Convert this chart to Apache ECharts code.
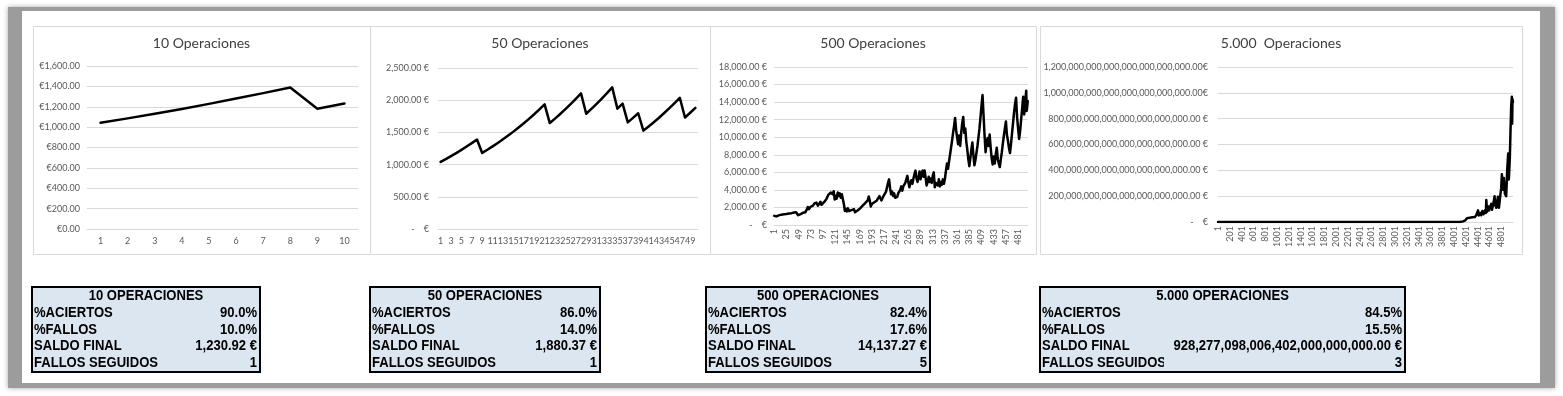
<!DOCTYPE html>
<html><head><meta charset="utf-8">
<script src="https://cdn.jsdelivr.net/npm/echarts@6/dist/echarts.min.js"></script>
<style>html,body{margin:0;padding:0;background:#fff;}#c{width:1563px;height:396px;}</style>
</head><body><div id="c"></div>
<script>
// ---------- DATA ----------
const cats10 = ['1','2','3','4','5','6','7','8','9','10'];
const vals10 = [1042.00,1085.76,1131.37,1178.88,1228.40,1279.99,1333.75,1389.77,1181.30,1230.92];
const yLabels10 = ['€0.00','€200.00','€400.00','€600.00','€800.00','€1,000.00','€1,200.00','€1,400.00','€1,600.00'];

const cats50 = Array.from({length:50},(_,i)=>String(i+1));
const vals50 = [1042.00,1085.76,1131.37,1178.88,1228.40,1279.99,1333.75,1389.77,1181.30,1230.92,
1282.62,1336.49,1392.62,1451.11,1512.06,1575.57,1641.74,1710.69,1782.54,1857.41,
1935.42,1645.11,1714.20,1786.20,1861.22,1939.39,2020.84,2105.72,1789.86,1865.03,
1943.36,2024.98,2110.03,2198.65,1868.85,1947.34,1655.24,1724.76,1797.20,1527.62,
1591.78,1658.63,1728.29,1800.88,1876.52,1955.33,2037.45,1731.83,1804.57,1880.37];
const yLabels50 = ['-    €','500.00 €','1,000.00 €','1,500.00 €','2,000.00 €','2,500.00 €'];

const cats500 = Array.from({length:500},(_,i)=>String(i+1));
const points500 = [[1,1042],[3,1130],[5,980],[8,1200],[10,1100],[13,1280],[15,1180],[18,1330],[20,1220],[23,1380],[25,1250],[28,1420],[30,1300],[33,1480],[35,1350],[38,1550],[40,1420],[42,1600],[44,1450],[46,1300],[48,1120],[50,1100],[53,1250],[55,1180],[58,1400],[60,1550],[62,1450],[65,1750],[67,2050],[69,1800],[72,2050],[74,1900],[77,2200],[80,2450],[82,2300],[84,2550],[87,2200],[89,2400],[92,2650],[94,2300],[96,2150],[99,2600],[101,2500],[104,3000],[107,3400],[109,3250],[112,3700],[114,3850],[116,3500],[118,3850],[120,2900],[122,3300],[124,3000],[126,3700],[128,3300],[130,3600],[132,3100],[134,3500],[136,3300],[138,2400],[140,1600],[142,1850],[144,1550],[146,1900],[148,1600],[150,1500],[153,1700],[155,1550],[158,1800],[160,1450],[162,1400],[165,1650],[167,1550],[170,1900],[172,1800],[175,2200],[177,2050],[180,2500],[182,2400],[185,2800],[187,3250],[189,2800],[191,2100],[193,2400],[195,2300],[198,2600],[200,2500],[203,2800],[205,2650],[208,3300],[210,3450],[212,2800],[214,3000],[216,3300],[218,3100],[221,3800],[223,4300],[225,4800],[227,5200],[229,4200],[231,3500],[233,3800],[235,3300],[237,3600],[239,3100],[241,3000],[243,3200],[245,3600],[247,3400],[249,4000],[251,4400],[253,3900],[255,4400],[257,4200],[259,4800],[261,5200],[263,5600],[265,4900],[267,4300],[269,4800],[271,5100],[273,4700],[275,5300],[277,5800],[279,6200],[281,5300],[283,4900],[285,5400],[287,6100],[289,5200],[291,5800],[293,6200],[295,5500],[297,6200],[299,6100],[301,4500],[303,4900],[305,5500],[307,4900],[309,5300],[311,4800],[313,5600],[315,6000],[317,4300],[319,4800],[321,5000],[323,4500],[325,5200],[327,4400],[329,4900],[331,4600],[333,5200],[335,4700],[337,5300],[339,6200],[341,7000],[343,6400],[345,7200],[347,8000],[349,8800],[351,9600],[353,10500],[355,11300],[357,12200],[359,10800],[361,10000],[363,9200],[365,10200],[367,9000],[369,10500],[371,11600],[373,12300],[375,10500],[377,11000],[379,9500],[381,8600],[383,7500],[385,6700],[387,7600],[389,8600],[391,9400],[393,8000],[395,6800],[397,7400],[399,8200],[401,9000],[403,10000],[405,11000],[407,12300],[409,13600],[411,14800],[413,12500],[415,10200],[417,8300],[419,9300],[421,9900],[423,9000],[425,10300],[427,8800],[429,7600],[431,6900],[433,7800],[435,7000],[437,8000],[439,8800],[441,7500],[443,7000],[445,6600],[447,7500],[449,8300],[451,9300],[453,10200],[455,11000],[457,11800],[459,10300],[461,9600],[463,8800],[465,8200],[467,9200],[469,10400],[471,11600],[473,12800],[475,13800],[477,14500],[479,12300],[481,11000],[483,9800],[485,10700],[487,12000],[489,13300],[491,14600],[493,12600],[495,14000],[497,15300],[498,13000],[499,13500],[500,14137.27]];
const yLabels500 = ['-    €','2,000.00 €','4,000.00 €','6,000.00 €','8,000.00 €','10,000.00 €','12,000.00 €','14,000.00 €','16,000.00 €','18,000.00 €'];

const cats5000 = Array.from({length:5000},(_,i)=>String(i+1));
const points5000 = [[1,1042],[500,1.4e4],[1000,2e6],[1500,3e8],[2000,4e10],[2500,6e12],[3000,9e14],[3500,1e17],[3800,2e18],[4000,3e19],[4100,2e20],[4155,5e21],[4190,1.2e22],[4222,3e22],[4245,3.8e22],[4267,3.3e22],[4290,4.2e22],[4310,3.6e22],[4335,4.8e22],[4355,3.9e22],[4380,5.5e22],[4395,4.5e22],[4408,9e22],[4420,5e22],[4440,7e22],[4460,5.2e22],[4480,8.5e22],[4500,6e22],[4525,9e22],[4540,7e22],[4548,1.7e23],[4560,8e22],[4580,1.2e23],[4595,9e22],[4604,1.1e23],[4632,1.4e23],[4645,9.5e22],[4660,1.0e23],[4675,1.6e23],[4688,2.0e23],[4700,1.3e23],[4717,1.1e23],[4730,1.5e23],[4745,1.95e23],[4762,1.1e23],[4784,2.0e23],[4800,2.6e23],[4812,3.7e23],[4829,2.5e23],[4846,3.4e23],[4863,2.2e23],[4885,2.0e23],[4902,4.0e23],[4919,5.3e23],[4930,3.3e23],[4947,5.0e23],[4958,7.0e23],[4970,9.0e23],[4981,9.7e23],[4986,7.6e23],[4992,9.5e23],[5000,9.28e23]];
const yLabels5000 = ['-    €','200,000,000,000,000,000,000,000.00 €','400,000,000,000,000,000,000,000.00 €','600,000,000,000,000,000,000,000.00 €','800,000,000,000,000,000,000,000.00 €','1,000,000,000,000,000,000,000,000.00€','1,200,000,000,000,000,000,000,000.00€'];

const chartTitles = ['10 Operaciones','50 Operaciones','500 Operaciones','5.000  Operaciones'];

const tableTitles = ['10 OPERACIONES','50 OPERACIONES','500 OPERACIONES','5.000 OPERACIONES'];
const rowLabels = ['%ACIERTOS','%FALLOS','SALDO FINAL','FALLOS SEGUIDOS'];
const aciertos = ['90.0%','86.0%','82.4%','84.5%'];
const fallos = ['10.0%','14.0%','17.6%','15.5%'];
const saldoFinal = ['1,230.92 €','1,880.37 €','14,137.27 €','928,277,098,006,402,000,000,000.00 €'];
const fallosSeguidos = ['1','1','5','3'];

// ---------- LAYOUT ----------
const FONT = 'Lato, "Open Sans", sans-serif';
const TFONT = 'bold 14.5px "Liberation Sans Narrow", "Liberation Sans", Arial, sans-serif';
const TSCALE = 0.9;
const charts = [
  {box:[33,26,337,228], grid:{left:87,top:66,width:271,height:163}, cats:cats10, data:vals10, labels:yLabels10, max:1600, interval:200, xInt:0, rot:0, ym:7, xm:8},
  {box:[370,26,340,228], grid:{left:438,top:68,width:260,height:161}, cats:cats50, data:vals50, labels:yLabels50, max:2500, interval:500, xInt:1, rot:0, ym:9, xm:8},
  {box:[710,26,326,228], grid:{left:774,top:67,width:254,height:158}, cats:cats500, data:points500.map(p=>[String(p[0]),p[1]]), labels:yLabels500, max:18000, interval:2000, xInt:23, rot:90, ym:7, xm:4},
  {box:[1040,26,482,228], grid:{left:1218,top:67,width:295,height:155}, cats:cats5000, data:points5000.map(p=>[String(p[0]),p[1]]), labels:yLabels5000, max:1.2e24, interval:2e23, xInt:199, rot:90, ym:10, xm:4}
];
const tables = [[32,287,228,85],[370,287,230,85],[706,287,224,85],[1040,287,365,85]];

const graphic = [];
graphic.push({type:'rect', z:0, shape:{x:8,y:7,width:1547,height:381}, style:{fill:'#9c9c9c', shadowBlur:5, shadowColor:'rgba(0,0,0,0.35)'}});
graphic.push({type:'rect', z:1, shape:{x:22,y:11,width:1518,height:372}, style:{fill:'#ffffff'}});
charts.forEach((c,i)=>{
  graphic.push({type:'rect', z:2, shape:{x:c.box[0]+0.5,y:c.box[1]+0.5,width:c.box[2],height:c.box[3]}, style:{fill:'#fff', stroke:'#d9d9d9', lineWidth:1}});
  graphic.push({type:'text', z:7, x:c.box[0]+c.box[2]/2, y:43, style:{text:chartTitles[i], font:'14px '+FONT, fill:'#404040', textAlign:'center', textVerticalAlign:'middle'}});
});
tables.forEach((t,i)=>{
  const [x,y,w,h]=t;
  graphic.push({type:'rect', z:10, shape:{x:x,y:y,width:w,height:h}, style:{fill:'#dce6f1', stroke:'#000', lineWidth:2}});
  const rowsY=[296,313,329.5,346,363];
  graphic.push({type:'text', z:11, x:x+w/2, y:rowsY[0], scaleX:TSCALE, style:{text:tableTitles[i], font:TFONT, fill:'#000', textAlign:'center', textVerticalAlign:'middle'}});
  const vals=[aciertos[i],fallos[i],saldoFinal[i],fallosSeguidos[i]];
  rowLabels.forEach((lab,r)=>{
    graphic.push({type:'text', z:11, x:x+2, y:rowsY[r+1], scaleX:TSCALE, style:{text:lab, font:TFONT, fill:'#000', textAlign:'left', textVerticalAlign:'middle'}});
    graphic.push({type:'text', z:13, x:x+w-3, y:rowsY[r+1], scaleX:TSCALE, style:{text:vals[r], font:TFONT, fill:'#000', textAlign:'right', textVerticalAlign:'middle'}});
  });
});
// label cut off by the neighbouring value cell in the widest table
graphic.push({type:'rect', z:12, shape:{x:1164,y:356,width:20,height:14}, style:{fill:'#dce6f1'}});

const option = {
  animation:false,
  backgroundColor:'#ffffff',
  graphic: graphic,
  grid: charts.map(c=>Object.assign({containLabel:false}, c.grid)),
  xAxis: charts.map((c,i)=>({gridIndex:i, type:'category', data:c.cats, boundaryGap:true, z:5,
    axisLine:{lineStyle:{color:'#d9d9d9'}}, axisTick:{show:false},
    axisLabel:{interval:c.xInt, rotate:c.rot, margin:c.xm, color:'#595959', fontSize:9, fontFamily:FONT}})),
  yAxis: charts.map((c,i)=>({gridIndex:i, type:'value', min:0, max:c.max, interval:c.interval, z:5,
    axisLine:{show:false}, axisTick:{show:false},
    splitLine:{lineStyle:{color:'#d9d9d9', width:1}},
    axisLabel:{margin:c.ym, color:'#595959', fontSize:9, fontFamily:FONT,
      formatter:(v)=>c.labels[Math.round(v/c.interval)]}})),
  series: charts.map((c,i)=>({type:'line', xAxisIndex:i, yAxisIndex:i, data:c.data, z:6,
    showSymbol:false, symbol:'none', smooth:false, sampling:null,
    lineStyle:{color:'#000', width:2.5, join:'round', cap:'round'}}))
};
const chart = echarts.init(document.getElementById('c'), null, {renderer:'canvas'});
chart.setOption(option);
</script></body></html>
